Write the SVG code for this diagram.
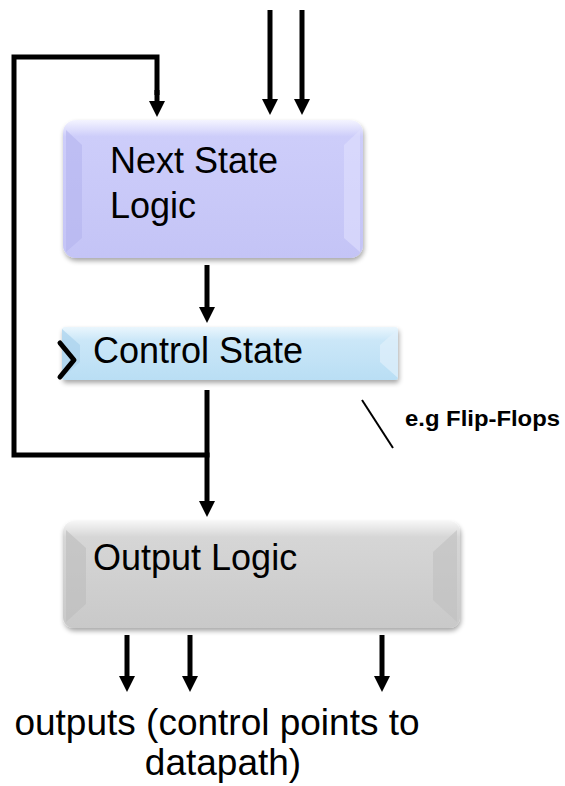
<svg xmlns="http://www.w3.org/2000/svg" width="565" height="786" viewBox="0 0 565 786">
<defs>
  <style>
    .lbl{font-family:"Liberation Sans","Noto Sans",Arial,sans-serif;font-size:36px;fill:#000}
    .big{font-size:37px}
    .note{font-family:"Liberation Sans","Noto Sans",Arial,sans-serif;font-size:22px;font-weight:bold;fill:#000}
    .wire{fill:none;stroke:#000;stroke-width:5}
    .arr{fill:none;stroke:#000;stroke-width:5;marker-end:url(#ah)}
  </style>
  <marker id="ah" markerUnits="userSpaceOnUse" markerWidth="18" markerHeight="18" refX="6" refY="8" orient="auto">
    <path d="M0,0 L16,8 L0,16 Z" fill="#000"/>
  </marker>
  <linearGradient id="gNS" x1="0" y1="0" x2="0" y2="1">
    <stop offset="0" stop-color="#f4f4ff"/>
    <stop offset="0.12" stop-color="#cdcdfa"/>
    <stop offset="1" stop-color="#c4c4f6"/>
  </linearGradient>
  <linearGradient id="gCS" x1="0" y1="0" x2="0" y2="1">
    <stop offset="0" stop-color="#eaf6fd"/>
    <stop offset="0.25" stop-color="#cbe7f8"/>
    <stop offset="1" stop-color="#b9def4"/>
  </linearGradient>
  <linearGradient id="gOL" x1="0" y1="0" x2="0" y2="1">
    <stop offset="0" stop-color="#f6f6f6"/>
    <stop offset="0.15" stop-color="#d6d6d6"/>
    <stop offset="1" stop-color="#c9c9c9"/>
  </linearGradient>
  <filter id="sh" x="-10%" y="-10%" width="125%" height="130%">
    <feGaussianBlur in="SourceAlpha" stdDeviation="2.5"/>
    <feOffset dx="1" dy="3" result="b"/>
    <feComponentTransfer><feFuncA type="linear" slope="0.35"/></feComponentTransfer>
    <feMerge><feMergeNode/><feMergeNode in="SourceGraphic"/></feMerge>
  </filter>
</defs>
<rect width="565" height="786" fill="#fff"/>

<g id="next-state-logic">
  <rect x="63" y="120" width="300" height="138" rx="13" fill="url(#gNS)" filter="url(#sh)"/>
  <path d="M66,130 L82,145 L82,238 L66,252 Z" fill="#b4b4ee" opacity="0.6"/>
  <path d="M360,130 L344,145 L344,238 L360,252 Z" fill="#e0e0fd" opacity="0.6"/>
  <text class="lbl" x="110" y="173">Next State</text>
  <text class="lbl" x="110" y="218">Logic</text>
</g>

<g id="control-state">
  <rect x="62" y="327" width="336" height="53" rx="3" fill="url(#gCS)" filter="url(#sh)"/>
  <path d="M62,329 L80,345 L80,362 L62,378 Z" fill="#a9d2ec" opacity="0.7"/>
  <path d="M398,329 L380,345 L380,362 L398,378 Z" fill="#dff0fb" opacity="0.7"/>
  <polyline points="60,343 74,360 60,377" fill="none" stroke="#000" stroke-width="5" stroke-linecap="round" stroke-linejoin="round"/>
  <text class="lbl" x="93" y="363">Control State</text>
</g>

<g id="output-logic">
  <rect x="63" y="521" width="397" height="107" rx="11" fill="url(#gOL)" filter="url(#sh)"/>
  <path d="M66,530 L86,548 L86,604 L66,622 Z" fill="#bdbdbd" opacity="0.6"/>
  <path d="M457,530 L433,552 L433,600 L457,622 Z" fill="#bfbfbf" opacity="0.6"/>
  <text class="lbl" x="93" y="570">Output Logic</text>
</g>

<g id="flipflop-note">
  <line x1="362" y1="400" x2="393" y2="448" stroke="#000" stroke-width="2"/>
  <text class="note" x="405" y="426" textLength="155" lengthAdjust="spacingAndGlyphs">e.g Flip-Flops</text>
</g>

<g id="outputs-label">
  <text class="lbl big" x="217" y="735" text-anchor="middle">outputs (control points to</text>
  <text class="lbl big" x="223" y="775" text-anchor="middle">datapath)</text>
</g>

<g id="connectors">
  <path class="wire" d="M209.5,455 H14 V57 H157 V95" />
  <line class="arr" x1="157" y1="90" x2="157" y2="107"/>
  <line class="arr" x1="270" y1="10" x2="270" y2="105"/>
  <line class="arr" x1="302" y1="10" x2="302" y2="105"/>
  <line class="arr" x1="207" y1="265" x2="207" y2="313"/>
  <line class="arr" x1="207" y1="390" x2="207" y2="507"/>
  <line class="arr" x1="127" y1="635" x2="127" y2="682"/>
  <line class="arr" x1="190" y1="635" x2="190" y2="682"/>
  <line class="arr" x1="382" y1="635" x2="382" y2="682"/>
</g>
</svg>
